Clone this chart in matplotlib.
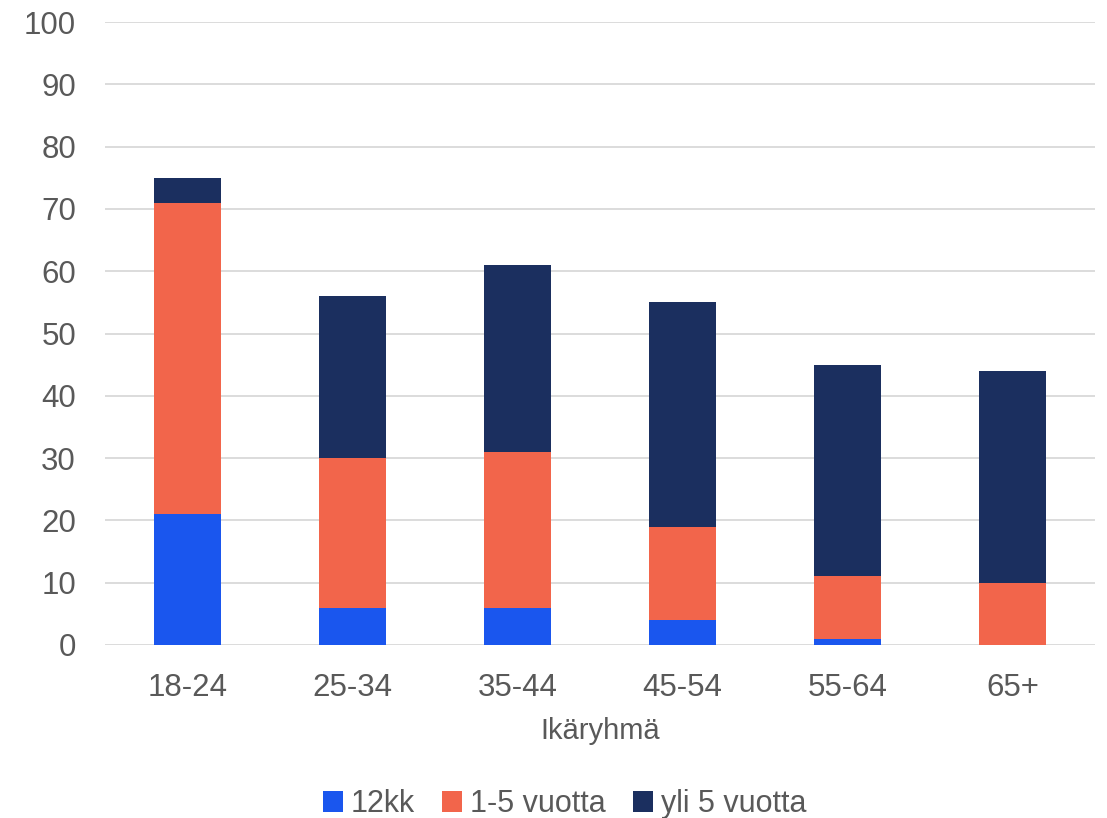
import matplotlib
matplotlib.use("Agg")
import matplotlib.pyplot as plt
import numpy as np

categories = ["18-24", "25-34", "35-44", "45-54", "55-64", "65+"]
s_12kk = [21, 6, 6, 4, 1, 0]
s_1_5 = [50, 24, 25, 15, 10, 10]
s_yli5 = [4, 26, 30, 36, 34, 34]
series_names = ["12kk", "1-5 vuotta", "yli 5 vuotta"]
colors = ["#1a56ee", "#f2654b", "#1b2f5f"]

plt.rcParams['font.family'] = ['Liberation Sans', 'DejaVu Sans']
txt = "#595959"

fig = plt.figure(figsize=(11.07, 8.18), dpi=100)
ax = fig.add_axes([0.095, 0.2115, 0.894, 0.7615])

x = np.arange(len(categories))
w = 0.41
b1 = np.array(s_12kk)
b2 = b1 + np.array(s_1_5)
ax.bar(x, s_12kk, w, color=colors[0], label=series_names[0], zorder=3)
ax.bar(x, s_1_5, w, bottom=b1, color=colors[1], label=series_names[1], zorder=3)
ax.bar(x, s_yli5, w, bottom=b2, color=colors[2], label=series_names[2], zorder=3)

ax.set_ylim(0, 100)
ax.set_yticks(range(0, 101, 10))
ax.set_xlim(-0.5, len(categories) - 0.5)
ax.set_xticks(x)
ax.set_xticklabels(categories)
ax.grid(axis='y', color='#d9d9d9', linewidth=1.3, zorder=0)
for sp in ax.spines.values():
    sp.set_visible(False)
ax.tick_params(axis='both', length=0, labelsize=22.5, colors=txt)
ax.tick_params(axis='y', pad=21)
ax.tick_params(axis='x', pad=20)
ax.set_xlabel("Ikäryhmä", fontsize=21, color=txt, labelpad=10)

leg = fig.legend(loc='lower center', bbox_to_anchor=(0.51, -0.035), ncol=3, frameon=False,
                 fontsize=22, handlelength=0.65, handleheight=0.65, handletextpad=0.25,
                 columnspacing=0.9)
for t in leg.get_texts():
    t.set_color(txt)

fig.savefig("out.png", dpi=100)
